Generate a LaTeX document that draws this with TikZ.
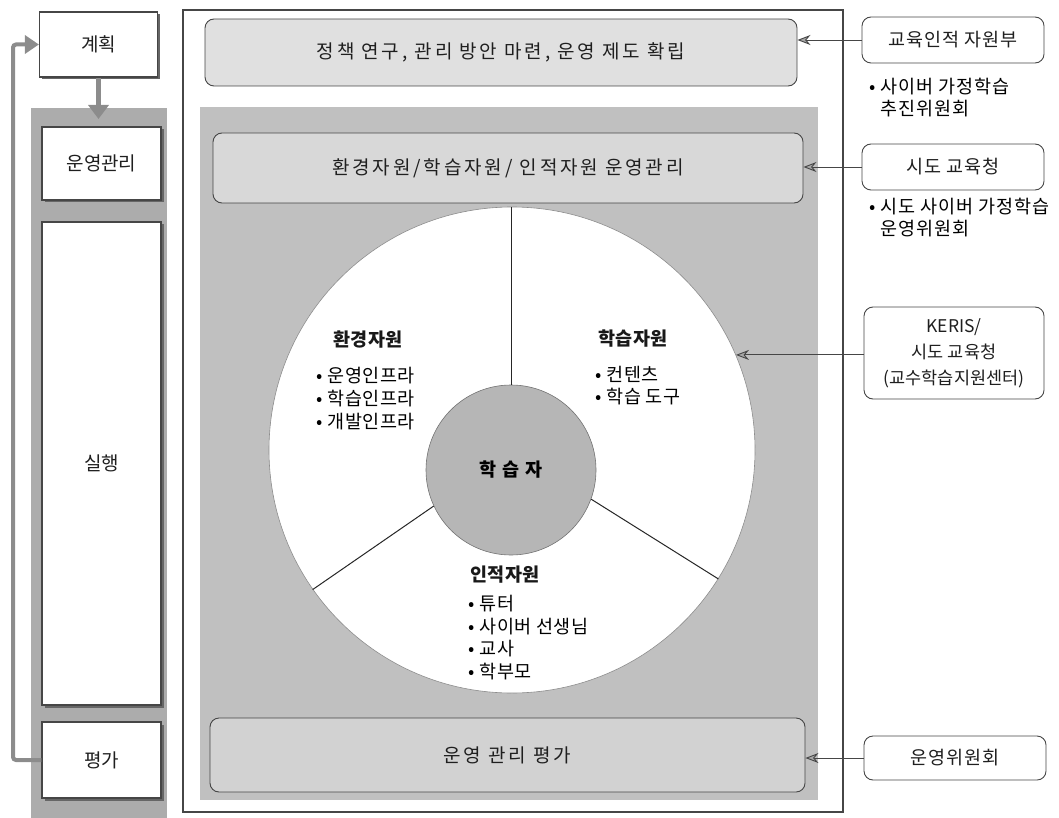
\documentclass[tikz,border=0pt]{standalone}
\usepackage{fontspec}
\setmainfont{Noto Sans CJK KR}
\newfontfamily\widefont[LetterSpace=15]{Noto Sans CJK KR}
\newfontfamily\rightfont[LetterSpace=5]{Noto Sans CJK KR}
\newfontfamily\circfont[LetterSpace=3]{Noto Sans CJK KR}
\usetikzlibrary{arrows.meta,shadows}
\definecolor{colgray}{RGB}{172,172,172}
\definecolor{regiongray}{RGB}{192,192,192}
\definecolor{topgray}{RGB}{224,224,224}
\definecolor{secgray}{RGB}{216,216,216}
\definecolor{botgray}{RGB}{210,210,210}
\definecolor{learngray}{RGB}{182,182,182}
\definecolor{inkgray}{RGB}{70,70,70}
\begin{document}
\begin{tikzpicture}[x=1pt,y=-1pt,
  txt/.style={font=\fontsize{19}{22}\selectfont, text=black!88},
  head/.style={font=\fontsize{18.5}{22}\selectfont\bfseries, text=black!90},
  wbox/.style={draw=inkgray, line width=1.2pt, fill=white, inner sep=0pt, txt,
    drop shadow={shadow xshift=2.5pt, shadow yshift=-2.5pt, fill=black!60, opacity=1}},
  rbox/.style={draw=inkgray, line width=0.9pt, rounded corners=9pt, inner sep=0pt, txt},
  widetxt/.style={font=\widefont\fontsize{19}{22}\selectfont},
  righttxt/.style={font=\rightfont\fontsize{18.5}{22}\selectfont},
  conn/.style={draw=inkgray, line width=0.9pt, -{Stealth[length=13pt,width=10pt,fill=black!35]}},
  divline/.style={draw=black!85, line width=1pt},
  bigarrow/.style={draw=black!45, line width=5pt, -{Triangle[length=14pt,width=20pt,fill=black!45]}},
  fbline/.style={draw=black!45, line width=4pt, rounded corners=3pt, -{Triangle[length=14pt,width=18pt,fill=black!45]}}
]
\useasboundingbox (0,0) rectangle (1059,818);

% ---------------- left column ----------------
\node[wbox, minimum width=118pt, minimum height=65pt] (plan) at (98.5,44.5) {계획};
\path[fill=colgray] (31,108) rectangle (167,818);
\node[wbox, minimum width=119pt, minimum height=73pt] (oper) at (101.5,163.5) {운영관리};
\node[wbox, minimum width=119pt, minimum height=483pt] (exec) at (101.5,463.5) {실행};
\node[wbox, minimum width=119pt, minimum height=76pt] (evalb) at (101.5,760) {평가};
\coordinate (plantip) at (98.5,119);
\draw[bigarrow] (plan.south) -- (plantip);
\coordinate (fbx) at (13,0);
\draw[fbline] (evalb.west) -| (fbx |- plan.west) -- (plan.west);

% ---------------- main frame ----------------
\draw[draw=inkgray, line width=1.6pt, fill=white] (183,10) rectangle (843,812);
\path[fill=regiongray] (200,107) rectangle (818,800);

\node[rbox, widetxt, fill=topgray, minimum width=592pt, minimum height=67pt] (policy) at (501,52.5) {정책 연구, 관리 방안 마련, 운영 제도 확립};
\node[rbox, widetxt, fill=secgray, minimum width=590pt, minimum height=70pt] (resmgmt) at (508,168) {환경자원/학습자원/ 인적자원 운영관리};
\node[rbox, widetxt, fill=botgray, minimum width=595pt, minimum height=74pt] (evalmgmt) at (507.5,755) {운영 관리 평가};

% circles
\node[circle, fill=white, draw=black!45, line width=0.6pt, minimum size=486pt, inner sep=0pt] (outer) at (512,450) {};
\node[circle, fill=learngray, draw=black!55, line width=0.6pt, minimum size=170pt, inner sep=0pt, font=\fontsize{18.5}{22}\selectfont\bfseries] (inner) at (511,470) {학\hspace{0.3em}습\hspace{0.3em}자};
\draw[divline] (inner.north) -- (inner.north |- outer.north);
\draw[divline] (inner.205) -- (outer.215);
\draw[divline] (inner.-20) -- (outer.-32);

% sector texts
\node[head] (envh) at (368,340) {환경자원};
\node[anchor=north west, align=left, font=\circfont\fontsize{18.5}{23}\selectfont] (envl) at (313,364) {• 운영인프라\\• 학습인프라\\• 개발인프라};
\node[head] (learnh) at (633,339) {학습자원};
\node[anchor=north west, align=left, font=\circfont\fontsize{18.5}{22}\selectfont] (learnl) at (592,363) {• 컨텐츠\\• 학습 도구};
\node[head] (humh) at (505,575) {인적자원};
\node[anchor=north west, align=left, font=\circfont\fontsize{18.5}{22.5}\selectfont] (huml) at (465,592) {• 튜터\\• 사이버 선생님\\• 교사\\• 학부모};

% ---------------- right column ----------------
\node[rbox, righttxt, fill=white, minimum width=182pt, minimum height=46pt] (moe) at (953,40) {교육인적 자원부};
\node[righttxt, anchor=north west, align=left] (moeb) at (866,75) {• 사이버 가정학습\\\phantom{• }추진위원회};
\node[rbox, righttxt, fill=white, minimum width=182pt, minimum height=46pt] (sido) at (953,167) {시도 교육청};
\node[righttxt, anchor=north west, align=left] (sidob) at (866,195) {• 시도 사이버 가정학습\\\phantom{• }운영위원회};
\node[rbox, fill=white, minimum width=180pt, minimum height=92pt, align=center, font=\fontsize{17.5}{26}\selectfont] (keris) at (954,353) {KERIS/\\시도 교육청\\(교수학습지원센터)};
\node[rbox, righttxt, fill=white, minimum width=182pt, minimum height=44pt] (comm) at (955,758) {운영위원회};

% connectors
\draw[conn] (moe.west) -- (moe.west -| policy.east);
\draw[conn] (sido.west) -- (sido.west -| resmgmt.east);
\draw[conn] (outer.23 -| keris.west) -- (outer.23);
\draw[conn] (comm.west) -- (comm.west -| evalmgmt.east);
\end{tikzpicture}
\end{document}
